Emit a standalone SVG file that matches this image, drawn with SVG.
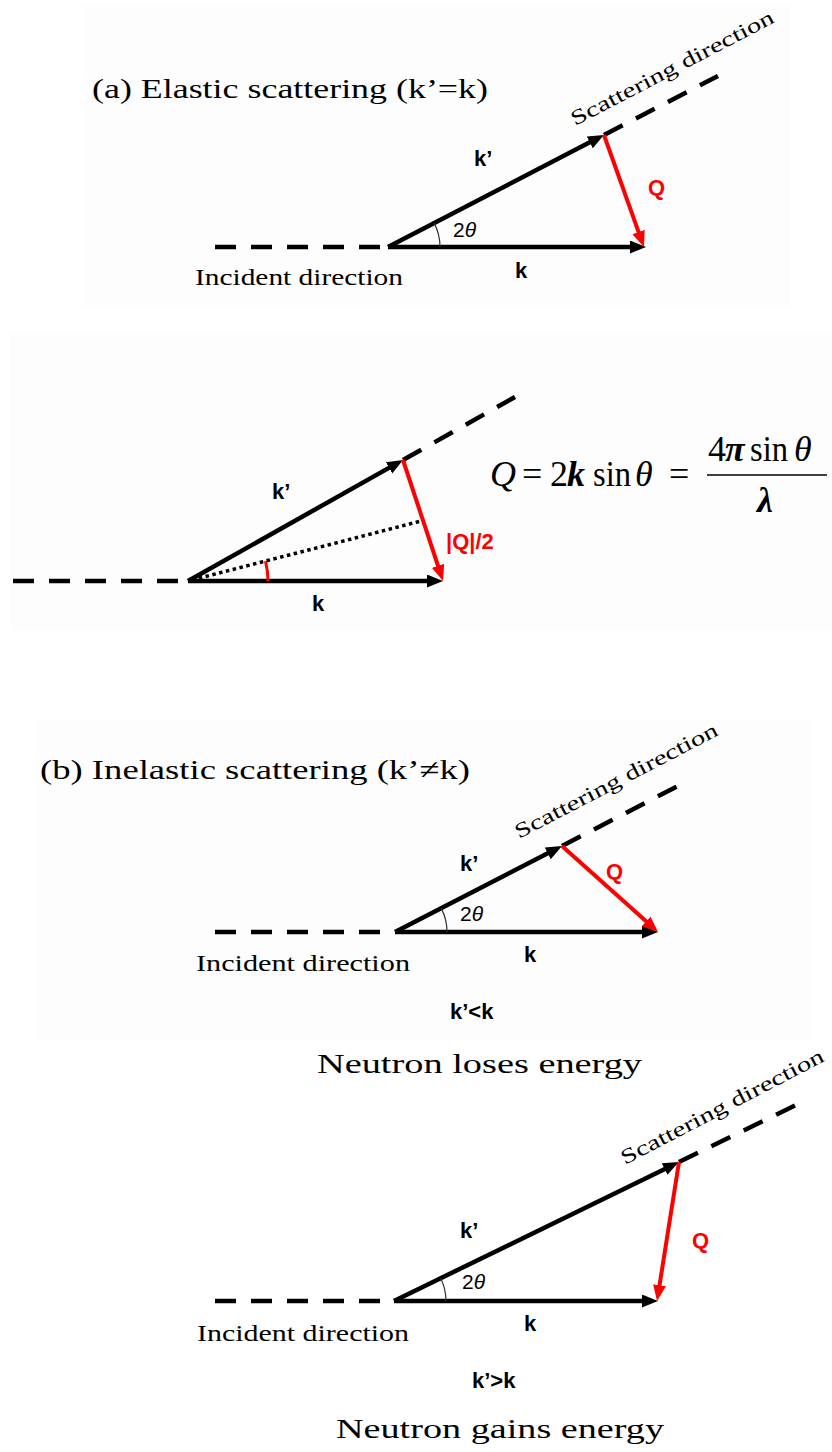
<svg xmlns="http://www.w3.org/2000/svg" width="832" height="1452" viewBox="0 0 832 1452">
<style>
.vec{stroke:#000;stroke-width:4.5;fill:none}
.red{stroke:#f00;stroke-width:4;fill:none}
.dash{stroke:#000;stroke-width:4.5;fill:none;stroke-dasharray:21 15}
.arc{stroke:#333;stroke-width:1.2;fill:none}
.lbl{font-family:"Liberation Sans",Arial,sans-serif;font-weight:bold;font-size:22px;fill:#000}
.lr{font-family:"Liberation Sans",Arial,sans-serif;font-weight:bold;font-size:22px;fill:#f00}
.ang{font-family:"Liberation Sans",Arial,sans-serif;font-size:21px;fill:#000}
.ser{font-family:"Liberation Serif","Times New Roman",serif;fill:#000}
.ttl{font-size:28px}
.cap{font-size:23px}
.sd{font-size:21px}
.eq{font-family:"Liberation Serif","Times New Roman",serif;font-size:36px;fill:#000}
.panel{fill:#fdfdfd}
</style>
<defs>
<marker id="ab" markerUnits="userSpaceOnUse" markerWidth="18" markerHeight="14" refX="6" refY="6.5" orient="auto"><path d="M0,0 L16,6.5 L0,13 z" fill="#000"/></marker>
<marker id="ar" markerUnits="userSpaceOnUse" markerWidth="18" markerHeight="14" refX="6" refY="6.5" orient="auto"><path d="M0,0 L16,6.5 L0,13 z" fill="#f00"/></marker>
</defs>
<rect width="832" height="1452" fill="#fff"/>
<rect class="panel" x="83" y="5" width="707" height="302"/>
<rect class="panel" x="10" y="333" width="822" height="297"/>
<rect class="panel" x="35" y="720" width="777" height="320"/>

<g id="connectors">
<!-- (a) -->
<line class="dash" x1="215" y1="247" x2="388" y2="247"/>
<line class="vec" x1="388" y1="247" x2="636" y2="247" marker-end="url(#ab)"/>
<line class="vec" x1="388" y1="247" x2="595.1" y2="139.6" marker-end="url(#ab)"/>
<line class="dash" x1="604" y1="135" x2="718" y2="76"/>
<line class="red" x1="604" y1="135" x2="640.6" y2="237.6" marker-end="url(#ar)"/>
<path class="arc" d="M440,247 A52 52 0 0 0 434.2,223.1"/>
<!-- middle -->
<line class="dash" x1="13" y1="581" x2="188" y2="581"/>
<line class="vec" x1="188" y1="581" x2="433" y2="581" marker-end="url(#ab)"/>
<line class="vec" x1="188" y1="581" x2="394.3" y2="464.9" marker-end="url(#ab)"/>
<line class="dash" x1="403" y1="460" x2="515" y2="397"/>
<line x1="192" y1="580" x2="423" y2="520.5" stroke="#000" stroke-width="3.5" stroke-dasharray="3.5 3.5"/>
<line class="red" x1="403" y1="460" x2="439.9" y2="571.5" marker-end="url(#ar)"/>
<path d="M268,581 A80 80 0 0 0 265.5,561.1" stroke="#f00" stroke-width="3" fill="none"/>
<!-- (b) loses -->
<line class="dash" x1="215" y1="932" x2="395" y2="932"/>
<line class="vec" x1="395" y1="932" x2="648" y2="932" marker-end="url(#ab)"/>
<line class="vec" x1="395" y1="932" x2="553.1" y2="850.6" marker-end="url(#ab)"/>
<line class="dash" x1="562" y1="846" x2="679" y2="785.4"/>
<line class="red" x1="562" y1="846" x2="650.6" y2="925.3" marker-end="url(#ar)"/>
<path class="arc" d="M447,932 A52 52 0 0 0 441.2,908.1"/>
<!-- (b) gains -->
<line class="dash" x1="215" y1="1301" x2="394" y2="1301"/>
<line class="vec" x1="394" y1="1301" x2="648" y2="1301" marker-end="url(#ab)"/>
<line class="vec" x1="394" y1="1301" x2="670" y2="1166.4" marker-end="url(#ab)"/>
<line class="dash" x1="679" y1="1162" x2="796" y2="1105"/>
<line class="red" x1="679" y1="1162" x2="658.6" y2="1291.1" marker-end="url(#ar)"/>
<path class="arc" d="M446,1301 A52 52 0 0 0 440.7,1278.2"/>
</g>

<g id="panel-a">
<text class="ser ttl" x="92" y="98" textLength="396" lengthAdjust="spacingAndGlyphs">(a) Elastic scattering (k’=k)</text>
<text class="ser sd" x="575" y="126" transform="rotate(-27.4 575 126)" textLength="226" lengthAdjust="spacingAndGlyphs">Scattering direction</text>
<text class="lbl" x="474" y="166">k’</text>
<text class="lr" x="648" y="195">Q</text>
<text class="ang" x="453" y="237">2<tspan font-style="italic">θ</tspan></text>
<text class="lbl" x="515" y="278">k</text>
<text class="ser cap" x="195" y="285" textLength="208" lengthAdjust="spacingAndGlyphs">Incident direction</text>
</g>

<g id="panel-mid">
<text class="lbl" x="272" y="499">k’</text>
<text class="lbl" x="312" y="611">k</text>
<text class="lr" x="446" y="549">|Q|/2</text>
<g id="formula">
<text class="eq" x="490" y="486" font-style="italic">Q</text>
<text class="eq" x="522" y="486">=</text>
<text class="eq" x="550" y="486">2</text>
<text class="eq" x="567" y="486" font-style="italic" font-weight="bold">k</text>
<text class="eq" x="593" y="486" textLength="38" lengthAdjust="spacingAndGlyphs">sin</text>
<text class="eq" x="635" y="486" font-style="italic">θ</text>
<text class="eq" x="669" y="486">=</text>
<text class="eq" x="708" y="461">4</text>
<text class="eq" x="725" y="461" font-style="italic" font-weight="bold">π</text>
<text class="eq" x="750" y="461" textLength="38" lengthAdjust="spacingAndGlyphs">sin</text>
<text class="eq" x="794" y="461" font-style="italic">θ</text>
<line x1="707" y1="475" x2="827" y2="475" stroke="#000" stroke-width="1.5"/>
<text class="eq" x="757" y="512" font-style="italic" font-weight="bold">λ</text>
</g>
</g>

<g id="panel-b1">
<text class="ser ttl" x="40" y="779" textLength="430" lengthAdjust="spacingAndGlyphs">(b) Inelastic scattering (k’≠k)</text>
<text class="ser sd" x="519" y="839" transform="rotate(-27.5 519 839)" textLength="226" lengthAdjust="spacingAndGlyphs">Scattering direction</text>
<text class="lbl" x="460" y="871">k’</text>
<text class="lr" x="606" y="879">Q</text>
<text class="ang" x="460" y="921">2<tspan font-style="italic">θ</tspan></text>
<text class="lbl" x="524" y="962">k</text>
<text class="ser cap" x="196" y="971" textLength="214" lengthAdjust="spacingAndGlyphs">Incident direction</text>
<text class="lbl" x="450" y="1019">k’&lt;k</text>
<text class="ser ttl" x="317" y="1073" textLength="325" lengthAdjust="spacingAndGlyphs">Neutron loses energy</text>
</g>

<g id="panel-b2">
<text class="ser sd" x="625" y="1165" transform="rotate(-27.5 625 1165)" textLength="226" lengthAdjust="spacingAndGlyphs">Scattering direction</text>
<text class="lbl" x="460" y="1238">k’</text>
<text class="lr" x="692" y="1248">Q</text>
<text class="ang" x="462" y="1289">2<tspan font-style="italic">θ</tspan></text>
<text class="lbl" x="524" y="1331">k</text>
<text class="ser cap" x="197" y="1341" textLength="212" lengthAdjust="spacingAndGlyphs">Incident direction</text>
<text class="lbl" x="472" y="1388">k’&gt;k</text>
<text class="ser ttl" x="336" y="1438" textLength="328" lengthAdjust="spacingAndGlyphs">Neutron gains energy</text>
</g>
</svg>
